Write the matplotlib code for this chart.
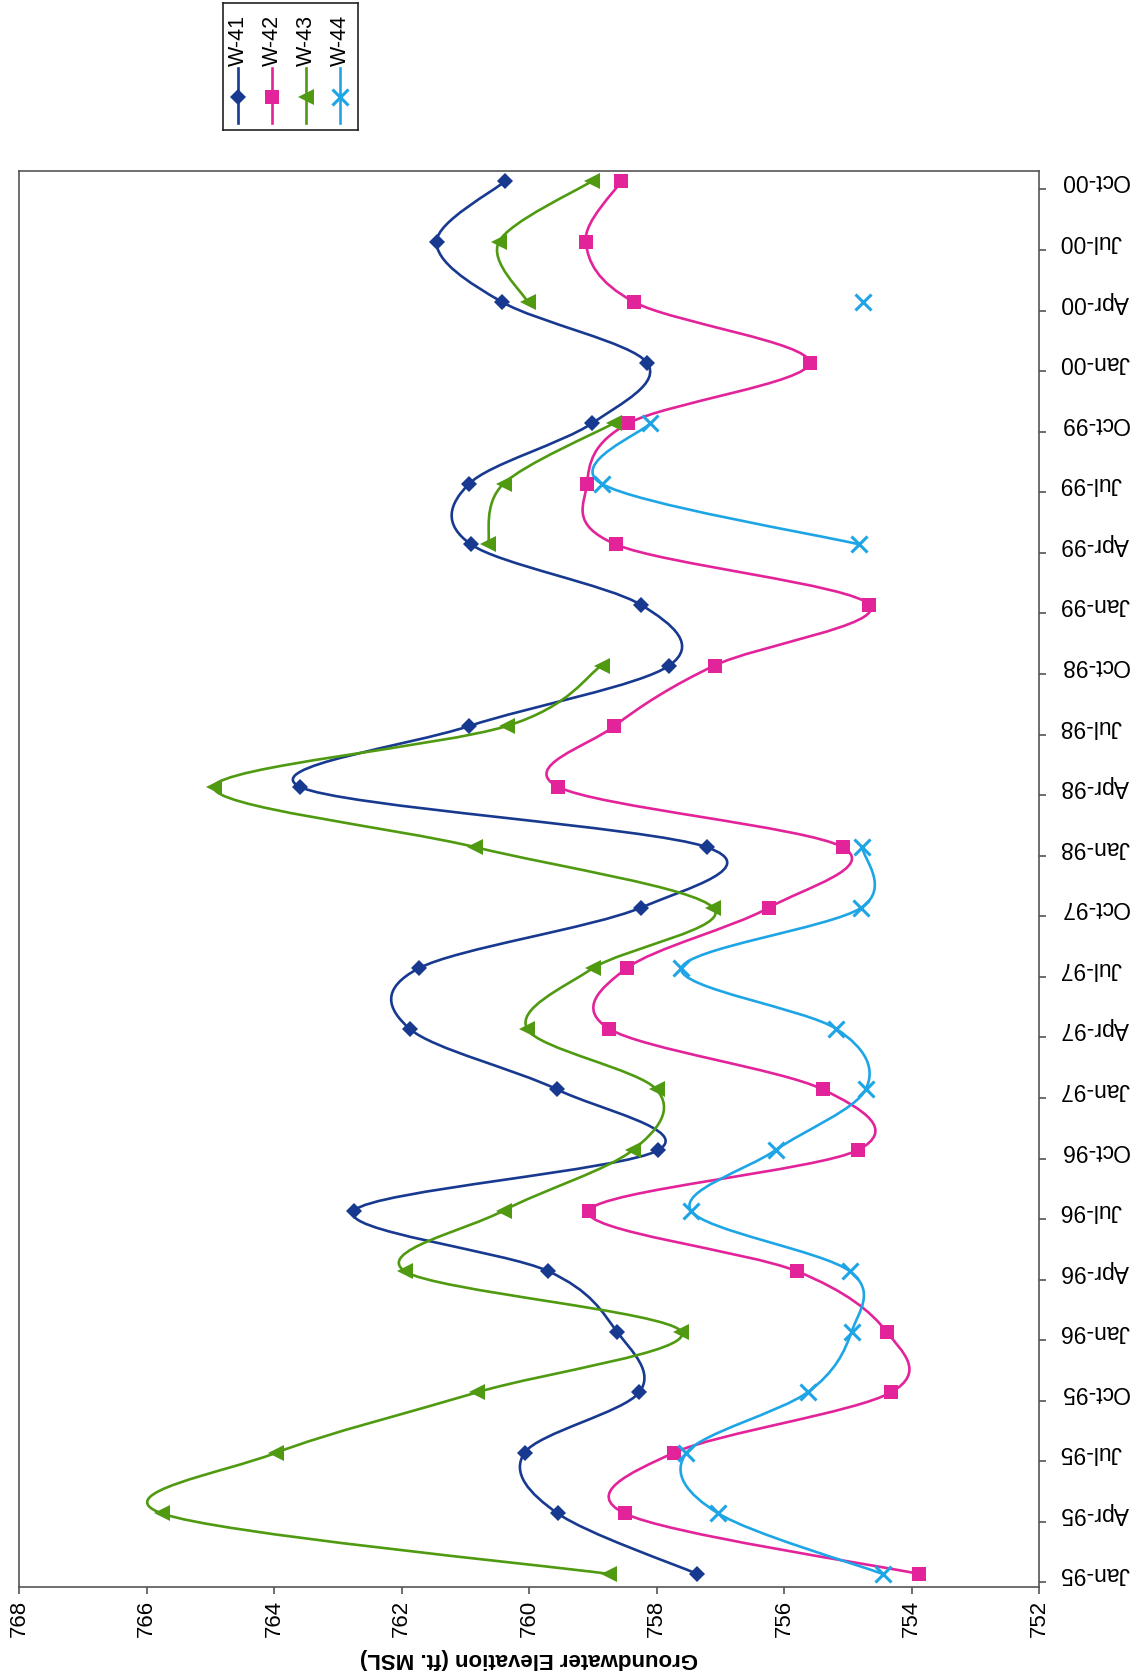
import numpy as np
import matplotlib.pyplot as plt
from matplotlib.path import Path
from matplotlib.patches import PathPatch

plt.rcParams['font.family'] = ['Liberation Sans', 'DejaVu Sans']

nan = np.nan

# quarterly sampling rounds
quarters = ['Jan-95', 'Apr-95', 'Jul-95', 'Oct-95',
            'Jan-96', 'Apr-96', 'Jul-96', 'Oct-96',
            'Jan-97', 'Apr-97', 'Jul-97', 'Oct-97',
            'Jan-98', 'Apr-98', 'Jul-98', 'Oct-98',
            'Jan-99', 'Apr-99', 'Jul-99', 'Oct-99',
            'Jan-00', 'Apr-00', 'Jul-00', 'Oct-00']

# groundwater elevations (ft. MSL) per well
w41 = [757.36, 759.55, 760.07, 758.27, 758.62, 759.70, 762.74, 757.97,
       759.56, 761.87, 761.73, 758.25, 757.21, 763.60, 760.94, 757.80,
       758.24, 760.91, 760.94, 759.01, 758.15, 760.42, 761.45, 760.37]
w42 = [753.88, 758.50, 757.73, 754.32, 754.39, 755.80, 759.06, 754.84,
       755.39, 758.74, 758.47, 756.24, 755.08, 759.55, 758.66, 757.09,
       754.66, 758.64, 759.09, 758.44, 755.60, 758.35, 759.11, 758.55]
w43 = [758.74, 765.76, 763.97, 760.81, 757.61, 761.95, 760.40, 758.37,
       758.00, 760.03, 759.00, 757.11, 760.84, 764.94, 760.35, 758.86,
       nan, 760.64, 760.40, 758.67, nan, 760.02, 760.47, 759.01]
w44 = [754.45, 757.03, 757.53, 755.63, 754.94, 754.97, 757.46, 756.13,
       754.72, 755.18, 757.61, 754.79, 754.77, nan, nan, nan,
       nan, 754.82, 758.86, 758.10, nan, 754.76, nan, nan]

wells = ['W-41', 'W-42', 'W-43', 'W-44']
series = [w41, w42, w43, w44]
colors = ['#17398f', '#e3239a', '#4f9a10', '#1ea5e6']
markers = ['D', 's', '<', 'x']
msizes = [8.5, 10.5, 11, 11]


def smooth_path(px, py):
    # cubic Bezier through the points, control arms taken from the neighbours
    pts = np.column_stack([px, py])
    n = len(pts)
    verts = [pts[0]]
    codes = [Path.MOVETO]
    for i in range(n - 1):
        p0 = pts[max(i - 1, 0)]
        p1 = pts[i]
        p2 = pts[i + 1]
        p3 = pts[min(i + 2, n - 1)]
        verts += [p1 + (p2 - p0) / 6, p2 - (p3 - p1) / 6, p2]
        codes += [Path.CURVE4] * 3
    return Path(verts, codes)


def runs(vals):
    # split a series into unbroken stretches of readings
    out, cur = [], []
    for i, v in enumerate(vals):
        if np.isnan(v):
            if cur:
                out.append(cur)
            cur = []
        else:
            cur.append(i)
    if cur:
        out.append(cur)
    return out


fig = plt.figure(figsize=(11.32, 16.8), dpi=100)
ax = fig.add_axes([19 / 1132, 1 - 1587 / 1680, 1020 / 1132, 1416 / 1680])

idx = np.arange(len(quarters))
for name, vals, col, mk, ms in zip(wells, series, colors, markers, msizes):
    vals = np.array(vals)
    for r in runs(vals):
        if len(r) > 1:
            ax.add_patch(PathPatch(smooth_path(vals[r], idx[r]), facecolor='none',
                                   edgecolor=col, lw=1.9, capstyle='round'))
    mew = 2.2 if mk == 'x' else 0
    ax.plot(vals, idx, linestyle='none', marker=mk, ms=ms, color=col,
            markeredgewidth=mew, label=name)

ax.set_xlim(768, 752)
ax.set_ylim(-0.215, 23.165)
ax.set_xticks(np.arange(752, 769, 2))
ax.tick_params(axis='x', labelsize=16, rotation=90, direction='out', length=5,
               width=1.2, color='#555555', pad=4)

ax.yaxis.set_ticks_position('right')
ax.set_yticks(idx - 0.14)
ax.set_yticklabels([])
ax.set_yticks(idx, minor=True)
ax.set_yticklabels(quarters, minor=True, rotation=180)
ax.tick_params(axis='y', which='major', direction='out', length=5, width=1.2,
               color='#555555')
ax.tick_params(axis='y', which='minor', length=0, pad=15, labelsize=16.5)
for lab in ax.get_yticklabels(minor=True):
    lab.set_va('center')

for sp in ax.spines.values():
    sp.set_color('#555555')
    sp.set_linewidth(1.2)

ax.set_xlabel('Groundwater Elevation (ft. MSL)', rotation=180, fontsize=16,
              fontweight='bold', labelpad=8)

# legend box with upright entries
lax = fig.add_axes([223 / 1132, 1 - 130 / 1680, 135 / 1132, 127 / 1680])
lax.set_xlim(0, 135)
lax.set_ylim(127, 0)
lax.set_xticks([])
lax.set_yticks([])
for sp in lax.spines.values():
    sp.set_color('#222222')
    sp.set_linewidth(1.2)
for k, (name, col, mk, ms) in enumerate(zip(wells, colors, markers, msizes)):
    cx = 15 + k * 34
    lax.plot([cx, cx], [65, 120], color=col, lw=1.9)
    lax.plot(cx, 94, marker=mk, ms=ms, color=col,
             markeredgewidth=2.2 if mk == 'x' else 0)
    lax.text(cx, 63, name, rotation=90, rotation_mode='anchor', ha='left',
             va='center', fontsize=15.5)

fig.savefig('out.png', dpi=100)
